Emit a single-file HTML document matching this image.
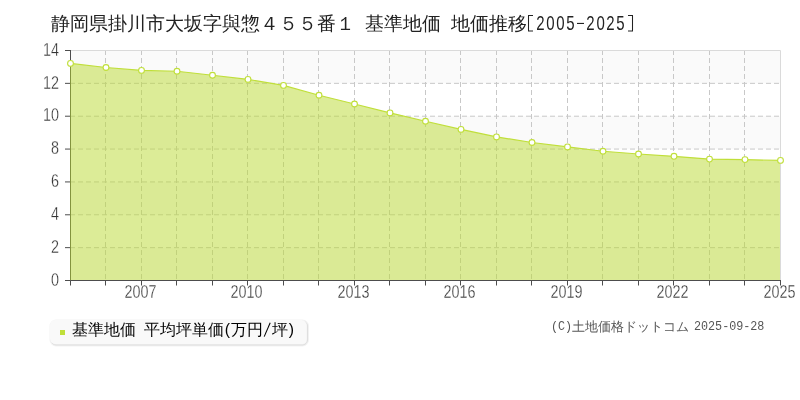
<!DOCTYPE html>
<html><head><meta charset="utf-8"><style>
html,body{margin:0;padding:0;background:#fff;width:800px;height:400px;overflow:hidden}
svg{display:block;font-family:"Liberation Sans",sans-serif}
text{-webkit-font-smoothing:antialiased}
svg{will-change:transform}
</style></head><body>
<svg width="800" height="400" viewBox="0 0 800 400">
<rect x="0" y="0" width="800" height="400" fill="#fff"/>
<text x="50.5" y="30" font-size="19" fill="#222">静岡県掛川市大坂字與惣４５５番１<tspan x="364.5">基準地価</tspan><tspan x="450.5">地価推移</tspan></text><text transform="scale(0.75,1)" x="714.93 728.40 741.73 754.93 781.73 795.20 808.40 821.60" y="29.6" font-size="20" fill="#222">20052025</text><path d="M533 15.5 H528.5 V31 H533 M628 15.5 H632.5 V31 H628" fill="none" stroke="#222" stroke-width="1.05"/><rect x="577" y="22.9" width="7" height="1.1" fill="#222"/>
<rect x="70.5" y="50.500" width="710" height="32.857" fill="#fafafa"/><rect x="70.5" y="116.214" width="710" height="32.857" fill="#fafafa"/><rect x="70.5" y="181.929" width="710" height="32.857" fill="#fafafa"/><rect x="70.5" y="247.643" width="710" height="32.857" fill="#fafafa"/>
<g stroke="#c8c8c8" stroke-width="1" stroke-dasharray="5,3" fill="none"><line x1="70" y1="83.357" x2="780.5" y2="83.357"/><line x1="70" y1="116.214" x2="780.5" y2="116.214"/><line x1="70" y1="149.071" x2="780.5" y2="149.071"/><line x1="70" y1="181.929" x2="780.5" y2="181.929"/><line x1="70" y1="214.786" x2="780.5" y2="214.786"/><line x1="70" y1="247.643" x2="780.5" y2="247.643"/><line x1="105.5" y1="50" x2="105.5" y2="280.5"/><line x1="141.5" y1="50" x2="141.5" y2="280.5"/><line x1="176.5" y1="50" x2="176.5" y2="280.5"/><line x1="212.5" y1="50" x2="212.5" y2="280.5"/><line x1="247.5" y1="50" x2="247.5" y2="280.5"/><line x1="283.5" y1="50" x2="283.5" y2="280.5"/><line x1="318.5" y1="50" x2="318.5" y2="280.5"/><line x1="354.5" y1="50" x2="354.5" y2="280.5"/><line x1="389.5" y1="50" x2="389.5" y2="280.5"/><line x1="425.5" y1="50" x2="425.5" y2="280.5"/><line x1="460.5" y1="50" x2="460.5" y2="280.5"/><line x1="496.5" y1="50" x2="496.5" y2="280.5"/><line x1="531.5" y1="50" x2="531.5" y2="280.5"/><line x1="567.5" y1="50" x2="567.5" y2="280.5"/><line x1="602.5" y1="50" x2="602.5" y2="280.5"/><line x1="638.5" y1="50" x2="638.5" y2="280.5"/><line x1="673.5" y1="50" x2="673.5" y2="280.5"/><line x1="709.5" y1="50" x2="709.5" y2="280.5"/><line x1="744.5" y1="50" x2="744.5" y2="280.5"/></g>
<g stroke="#4d4d4d" stroke-width="1" fill="none"><line x1="65" y1="50.500" x2="70.5" y2="50.500"/><line x1="65" y1="83.357" x2="70.5" y2="83.357"/><line x1="65" y1="116.214" x2="70.5" y2="116.214"/><line x1="65" y1="149.071" x2="70.5" y2="149.071"/><line x1="65" y1="181.929" x2="70.5" y2="181.929"/><line x1="65" y1="214.786" x2="70.5" y2="214.786"/><line x1="65" y1="247.643" x2="70.5" y2="247.643"/><line x1="65" y1="280.500" x2="70.5" y2="280.500"/><line x1="70.5" y1="280.5" x2="70.5" y2="285.5"/><line x1="105.5" y1="280.5" x2="105.5" y2="285.5"/><line x1="141.5" y1="280.5" x2="141.5" y2="285.5"/><line x1="176.5" y1="280.5" x2="176.5" y2="285.5"/><line x1="212.5" y1="280.5" x2="212.5" y2="285.5"/><line x1="247.5" y1="280.5" x2="247.5" y2="285.5"/><line x1="283.5" y1="280.5" x2="283.5" y2="285.5"/><line x1="318.5" y1="280.5" x2="318.5" y2="285.5"/><line x1="354.5" y1="280.5" x2="354.5" y2="285.5"/><line x1="389.5" y1="280.5" x2="389.5" y2="285.5"/><line x1="425.5" y1="280.5" x2="425.5" y2="285.5"/><line x1="460.5" y1="280.5" x2="460.5" y2="285.5"/><line x1="496.5" y1="280.5" x2="496.5" y2="285.5"/><line x1="531.5" y1="280.5" x2="531.5" y2="285.5"/><line x1="567.5" y1="280.5" x2="567.5" y2="285.5"/><line x1="602.5" y1="280.5" x2="602.5" y2="285.5"/><line x1="638.5" y1="280.5" x2="638.5" y2="285.5"/><line x1="673.5" y1="280.5" x2="673.5" y2="285.5"/><line x1="709.5" y1="280.5" x2="709.5" y2="285.5"/><line x1="744.5" y1="280.5" x2="744.5" y2="285.5"/><line x1="780.5" y1="280.5" x2="780.5" y2="285.5"/><path d="M70.5 50 V280.5 H781"/></g>
<path d="M70,280 L70,63.40 L70.50,63.40 L106.00,67.50 L141.50,70.40 L177.00,71.25 L212.50,75.25 L248.00,79.40 L283.50,85.40 L319.00,95.25 L354.50,104.00 L390.00,112.90 L425.50,121.25 L461.00,129.40 L496.50,136.90 L532.00,142.50 L567.50,146.90 L603.00,151.25 L638.50,154.00 L674.00,156.30 L709.50,159.10 L745.00,159.60 L780.50,160.40 L780.5,280 Z" fill="rgba(186,218,48,0.5)" stroke="none"/>
<path d="M71 50.5 H780.5 V280" fill="none" stroke="#dadada" stroke-width="1"/>
<polyline points="70.50,63.40 106.00,67.50 141.50,70.40 177.00,71.25 212.50,75.25 248.00,79.40 283.50,85.40 319.00,95.25 354.50,104.00 390.00,112.90 425.50,121.25 461.00,129.40 496.50,136.90 532.00,142.50 567.50,146.90 603.00,151.25 638.50,154.00 674.00,156.30 709.50,159.10 745.00,159.60 780.50,160.40" fill="none" stroke="#c0df3a" stroke-width="1.2" stroke-linejoin="round"/>
<g fill="#fff" stroke="#c0df3a" stroke-width="1.1"><circle cx="70.50" cy="63.40" r="2.9"/><circle cx="106.00" cy="67.50" r="2.9"/><circle cx="141.50" cy="70.40" r="2.9"/><circle cx="177.00" cy="71.25" r="2.9"/><circle cx="212.50" cy="75.25" r="2.9"/><circle cx="248.00" cy="79.40" r="2.9"/><circle cx="283.50" cy="85.40" r="2.9"/><circle cx="319.00" cy="95.25" r="2.9"/><circle cx="354.50" cy="104.00" r="2.9"/><circle cx="390.00" cy="112.90" r="2.9"/><circle cx="425.50" cy="121.25" r="2.9"/><circle cx="461.00" cy="129.40" r="2.9"/><circle cx="496.50" cy="136.90" r="2.9"/><circle cx="532.00" cy="142.50" r="2.9"/><circle cx="567.50" cy="146.90" r="2.9"/><circle cx="603.00" cy="151.25" r="2.9"/><circle cx="638.50" cy="154.00" r="2.9"/><circle cx="674.00" cy="156.30" r="2.9"/><circle cx="709.50" cy="159.10" r="2.9"/><circle cx="745.00" cy="159.60" r="2.9"/><circle cx="780.50" cy="160.40" r="2.9"/></g>
<g font-size="18.4" fill="#333" stroke="#fff" stroke-width="0.3"><text x="59" y="55.70" text-anchor="end" textLength="16" lengthAdjust="spacingAndGlyphs">14</text><text x="59" y="88.56" text-anchor="end" textLength="16" lengthAdjust="spacingAndGlyphs">12</text><text x="59" y="121.41" text-anchor="end" textLength="16" lengthAdjust="spacingAndGlyphs">10</text><text x="59" y="154.27" text-anchor="end" textLength="8" lengthAdjust="spacingAndGlyphs">8</text><text x="59" y="187.13" text-anchor="end" textLength="8" lengthAdjust="spacingAndGlyphs">6</text><text x="59" y="219.99" text-anchor="end" textLength="8" lengthAdjust="spacingAndGlyphs">4</text><text x="59" y="252.84" text-anchor="end" textLength="8" lengthAdjust="spacingAndGlyphs">2</text><text x="59" y="285.70" text-anchor="end" textLength="8" lengthAdjust="spacingAndGlyphs">0</text></g>
<g font-size="18.4" fill="#333" stroke="#fff" stroke-width="0.3"><text x="140.5" y="297.8" text-anchor="middle" textLength="32" lengthAdjust="spacingAndGlyphs">2007</text><text x="246.5" y="297.8" text-anchor="middle" textLength="32" lengthAdjust="spacingAndGlyphs">2010</text><text x="353.5" y="297.8" text-anchor="middle" textLength="32" lengthAdjust="spacingAndGlyphs">2013</text><text x="459.5" y="297.8" text-anchor="middle" textLength="32" lengthAdjust="spacingAndGlyphs">2016</text><text x="566.5" y="297.8" text-anchor="middle" textLength="32" lengthAdjust="spacingAndGlyphs">2019</text><text x="672.5" y="297.8" text-anchor="middle" textLength="32" lengthAdjust="spacingAndGlyphs">2022</text><text x="779.5" y="297.8" text-anchor="middle" textLength="32" lengthAdjust="spacingAndGlyphs">2025</text></g>
<g transform="translate(1,1)" fill="none" stroke="#000"><rect x="50" y="320" width="256.5" height="24" rx="5" ry="5" stroke-width="3" stroke-opacity="0.05"/><rect x="50" y="320" width="256.5" height="24" rx="5" ry="5" stroke-width="1" stroke-opacity="0.08"/></g>
<rect x="50" y="320" width="256.5" height="24" rx="5" ry="5" fill="#f9f9f9" stroke="none"/>
<rect x="60" y="330" width="5" height="5" fill="#c0df3a"/>
<g font-size="15.75" fill="#000"><text x="72" y="334.6">基準地価</text><text x="144" y="334.6">平均坪単価</text><text x="227.3" y="334.6" text-anchor="middle">(</text><text x="231.2" y="334.6">万</text><text x="246.6" y="334.6">円</text></g><line x1="264.2" y1="336.6" x2="270.2" y2="322.8" stroke="#000" stroke-width="1.05"/><g font-size="15.75" fill="#000"><text x="271.8" y="334.6">坪</text><text x="291.4" y="334.6" text-anchor="middle">)</text></g>
<g fill="#555"><text transform="scale(0.87,1)" x="633.33" y="330.2" font-size="13.5" font-family="Liberation Mono">(C)</text><text x="572" y="331" font-size="12.8">土地価格ドットコム</text><text transform="scale(0.87,1)" x="797.70" y="330.2" font-size="13.5" font-family="Liberation Mono">2025-09-28</text></g>
</svg>
</body></html>
